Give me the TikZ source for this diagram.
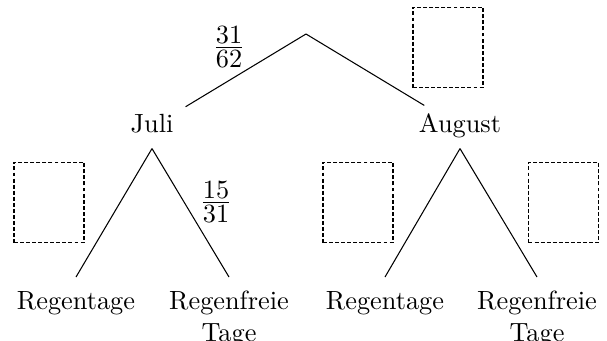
\documentclass[tikz,border=0pt]{standalone}
\usepackage{amsmath}
\begin{document}
\begin{tikzpicture}[x=0.38pt,y=-0.38pt,
  mid/.style={minimum width=25.1pt,minimum height=16pt,text height=7pt,text depth=3.2pt,inner sep=0pt},
  leaf/.style={align=center,anchor=north,inner ysep=5.2pt,inner xsep=0pt},
  blank/.style={draw,dash pattern=on 1.5pt off 0.8pt,minimum width=26.6pt,minimum height=30.4pt,inner sep=0pt},
  frac/.style={inner sep=0pt}]
\useasboundingbox (0,0) rectangle (607,340);
\coordinate (root) at (306,34);
\node[mid] (juli) at (152,127) {Juli};
\node[mid] (aug) at (460,127) {August};
\node[leaf] (r1) at (76,277) {Regentage};
\node[leaf] (f1) at (229,277) {Regenfreie\\Tage};
\node[leaf] (r2) at (385,277) {Regentage};
\node[leaf] (f2) at (537,277) {Regenfreie\\Tage};
\draw (root) -- (juli);
\draw (root) -- (aug);
\draw (juli.south) -- (r1.north);
\draw (juli.south) -- (f1.north);
\draw (aug.south) -- (r2.north);
\draw (aug.south) -- (f2.north);
\node[frac] (p1) at (229,47) {$\frac{\textstyle 31}{\rule{0pt}{7.2pt}\textstyle 62}$};
\node[frac] (p2) at (216,202) {$\frac{\textstyle 15}{\rule{0pt}{7.2pt}\textstyle 31}$};
\node[blank] (b1) at (448,47.5) {};
\node[blank] (b2) at (49,202.5) {};
\node[blank] (b3) at (358,202.5) {};
\node[blank] (b4) at (563.5,202.5) {};
\end{tikzpicture}
\end{document}
